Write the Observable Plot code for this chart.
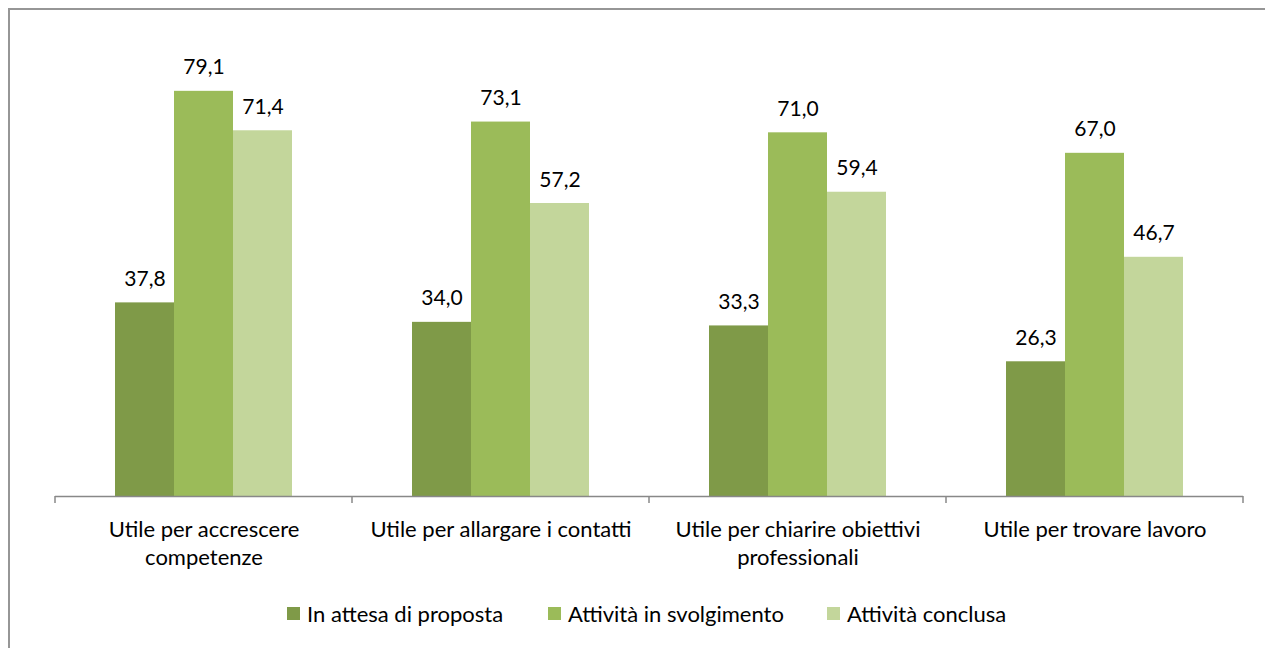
<!DOCTYPE html>
<html>
<head>
<meta charset="utf-8">
<script src="https://cdn.jsdelivr.net/npm/d3@7"></script>
<script src="https://cdn.jsdelivr.net/npm/@observablehq/plot@0.6"></script>
<style>
  html, body { margin: 0; padding: 0; background: #fff; overflow: hidden; }
  #wrap { position: relative; width: 1265px; height: 648px; font-family: Lato, "Open Sans", sans-serif; }
  #border { position: absolute; left: 8px; top: 8px; width: 1300px; height: 700px; border-left: 2px solid #969696; border-top: 2px solid #969696; box-sizing: border-box; }
  #chart { position: absolute; left: 0; top: 0; }
  #legend { position: absolute; left: 0; top: 600px; width: 1265px; font-size: 22px; color: #000; }
  .item { display: flex; align-items: center; position: absolute; top: 0; white-space: nowrap; }
  .sw { width: 13px; height: 13px; margin-right: 7px; }
</style>
</head>
<body>
<div id="wrap">
  <div id="border"></div>
  <div id="chart"></div>
  <div id="legend"></div>
</div>
<script>
const categories = [
  "Utile per accrescere competenze",
  "Utile per allargare i contatti",
  "Utile per chiarire obiettivi professionali",
  "Utile per trovare lavoro"
];
const tickLabels = [
  "Utile per accrescere\ncompetenze",
  "Utile per allargare i contatti",
  "Utile per chiarire obiettivi\nprofessionali",
  "Utile per trovare lavoro"
];
const series = ["In attesa di proposta", "Attività in svolgimento", "Attività conclusa"];
const inAttesa = [37.8, 34.0, 33.3, 26.3];
const inSvolgimento = [79.1, 73.1, 71.0, 67.0];
const conclusa = [71.4, 57.2, 59.4, 46.7];
const colors = ["#7f9a48", "#9bbb59", "#c3d69b"];

const seriesValues = [inAttesa, inSvolgimento, conclusa];
const data = categories.flatMap((c, i) => series.map((s, j) => ({cat: c, series: s, value: seriesValues[j][i]})));
const fmt = v => v.toFixed(1).replace(".", ",");

const chart = Plot.plot({
  width: 1265,
  height: 585,
  marginTop: 35,
  marginBottom: 89,
  marginLeft: 55,
  marginRight: 22,
  style: {fontFamily: "Lato, 'Open Sans', sans-serif", fontSize: "20px", color: "#000", background: "transparent"},
  fx: {domain: categories, paddingInner: 0, paddingOuter: 0, label: null},
  x: {domain: series, paddingInner: 0, paddingOuter: 1, axis: null},
  y: {domain: [0, 90], axis: null},
  color: {domain: series, range: colors},
  marks: [
    Plot.barY(data, {fx: "cat", x: "series", y: "value", fill: "series"}),
    Plot.text(data, {fx: "cat", x: "series", y: "value", text: d => fmt(d.value), lineAnchor: "bottom", dy: -17, fontSize: 21, fill: "#000"}),
    Plot.ruleY([0], {stroke: "#888", strokeWidth: 1.5}),
    Plot.axisFx({anchor: "bottom", tickSize: 0, tickPadding: 20, fontSize: 22, lineHeight: 1.28, label: null,
      tickFormat: c => tickLabels[categories.indexOf(c)], fill: "#000"})
  ]
});
document.getElementById("chart").appendChild(chart);

// group boundary ticks, positioned from the fx and y scales
const fx = chart.scale("fx");
const y0 = chart.scale("y").apply(0);
const bw = fx.bandwidth;
const bounds = categories.map(c => fx.apply(c)).concat([fx.apply(categories[categories.length - 1]) + bw]);
d3.select(chart).append("g")
  .selectAll("line").data(bounds).join("line")
  .attr("x1", d => d).attr("x2", d => d)
  .attr("y1", y0).attr("y2", y0 + 7)
  .attr("stroke", "#888").attr("stroke-width", 1.5);

// legend
const legendX = [287, 548, 827];
const legend = d3.select("#legend");
series.forEach((s, i) => {
  const it = legend.append("div").attr("class", "item").style("left", legendX[i] + "px");
  it.append("div").attr("class", "sw").style("background", colors[i]);
  it.append("span").text(s);
});
</script>
</body>
</html>
